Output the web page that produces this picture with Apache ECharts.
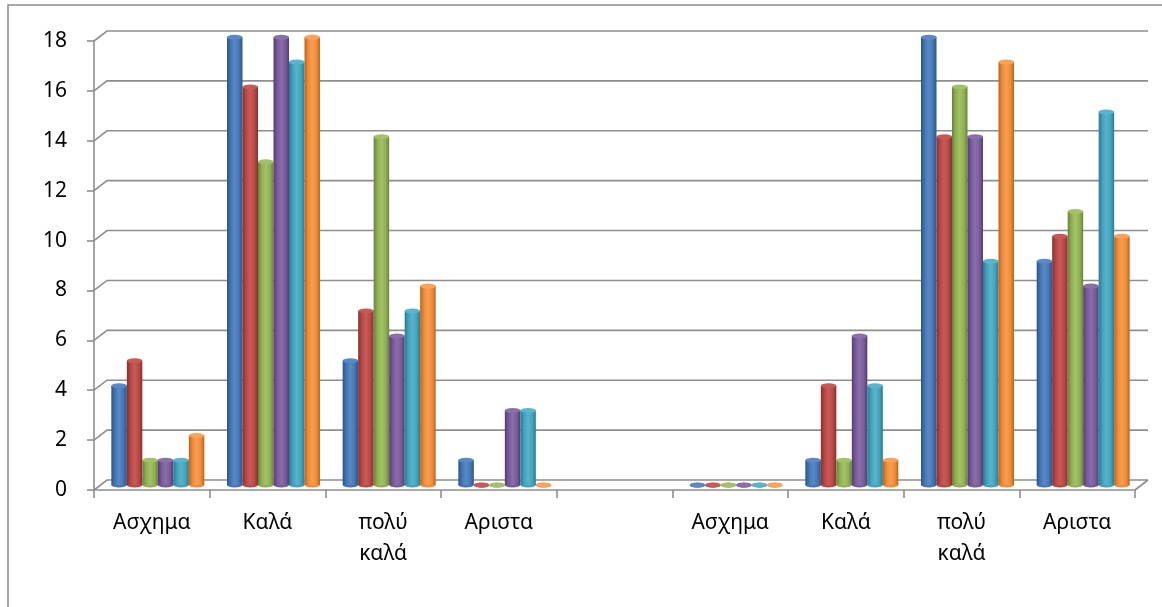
<!DOCTYPE html>
<html>
<head>
<meta charset="utf-8">
<script src="https://cdn.jsdelivr.net/npm/echarts@6/dist/echarts.min.js"></script>
<style>html,body{margin:0;padding:0;background:#fff;}#c{width:1162px;height:607px;}</style>
</head>
<body>
<div id="c"></div>
<script>
const categories = ['Ασχημα', 'Καλά', 'πολύ καλά', 'Αριστα', '', 'Ασχημα', 'Καλά', 'πολύ καλά', 'Αριστα'];
const series1 = [4, 18, 5, 1, '-', 0, 1, 18, 9];
const series2 = [5, 16, 7, 0, '-', 0, 4, 14, 10];
const series3 = [1, 13, 14, 0, '-', 0, 1, 16, 11];
const series4 = [1, 18, 6, 3, '-', 0, 6, 14, 8];
const series5 = [1, 17, 7, 3, '-', 0, 4, 9, 15];
const series6 = [2, 18, 8, 0, '-', 0, 1, 17, 10];
const yTicks = [0, 2, 4, 6, 8, 10, 12, 14, 16, 18];

const allSeries = [series1, series2, series3, series4, series5, series6];
const palette = [
  { dark: '#2b5587', mid: '#4575b3', light: '#5a8ac6', cap: '#5a89c4' },
  { dark: '#833230', mid: '#b84845', light: '#c85b58', cap: '#c65a57' },
  { dark: '#67823a', mid: '#91b054', light: '#a3c266', cap: '#a3c166' },
  { dark: '#533c70', mid: '#785c9a', light: '#8a6eab', cap: '#8a70ab' },
  { dark: '#2a7a90', mid: '#44a2bb', light: '#58b4cc', cap: '#5ab5cc' },
  { dark: '#b9641d', mid: '#ee8c3a', light: '#f89d52', cap: '#f9a25a' }
];

const DX = 13, DY = 10;
const BW = 15.5;
const gridColor = '#8e8e8e';
const font = 'Noto Sans';

const chart = echarts.init(document.getElementById('c'), null, { renderer: 'canvas' });

const series = [];
series.push({
  type: 'custom',
  xAxisIndex: 0, yAxisIndex: 0,
  silent: true, z: 1,
  data: yTicks.map(v => [0, v]),
  renderItem: function (params, api) {
    const cs = params.coordSys;
    const y = api.coord([0, api.value(1)])[1];
    const x0 = cs.x, x1 = cs.x + cs.width;
    const children = [{
      type: 'polyline',
      shape: { points: [[x0, y], [x0 + DX, y - DY], [x1 + DX, y - DY]] },
      style: { stroke: gridColor, lineWidth: 1.6, fill: null }
    }];
    if (api.value(1) === 0) {
      children.push({
        type: 'line',
        shape: { x1: x1, y1: y, x2: x1 + DX, y2: y - DY },
        style: { stroke: gridColor, lineWidth: 1.6 }
      });
    }
    return { type: 'group', children: children };
  }
});

allSeries.forEach((data, i) => {
  const p = palette[i];
  series.push({
    type: 'bar',
    name: 'S' + (i + 1),
    xAxisIndex: 1, yAxisIndex: 1,
    data: data,
    barGap: '0%',
    barCategoryGap: '19.6%',
    z: 3,
    itemStyle: {
      color: new echarts.graphic.LinearGradient(0, 0, 1, 0, [
        { offset: 0, color: p.dark },
        { offset: 0.25, color: p.mid },
        { offset: 0.5, color: p.light },
        { offset: 0.78, color: p.mid },
        { offset: 1, color: p.dark }
      ])
    }
  });
});
allSeries.forEach((data, i) => {
  const p = palette[i];
  series.push({
    type: 'pictorialBar',
    name: 'C' + (i + 1),
    xAxisIndex: 1, yAxisIndex: 1,
    data: data,
    barGap: '0%',
    barCategoryGap: '19.6%',
    symbol: 'circle',
    symbolSize: [BW, 5],
    symbolPosition: 'end',
    symbolOffset: [0, '-50%'],
    z: 5,
    itemStyle: { color: p.cap, borderColor: p.dark, borderWidth: 0.8 }
  });
});
allSeries.forEach((data, i) => {
  const p = palette[i];
  series.push({
    type: 'pictorialBar',
    name: 'B' + (i + 1),
    xAxisIndex: 2, yAxisIndex: 2,
    data: data,
    barGap: '0%',
    barCategoryGap: '19.6%',
    symbol: 'circle',
    symbolSize: [BW, 5],
    symbolPosition: 'start',
    symbolOffset: [0, '50%'],
    z: 2,
    itemStyle: { color: p.mid }
  });
});

const hiddenX = idx => ({
  type: 'category', gridIndex: idx, data: categories,
  axisLine: { show: false }, axisTick: { show: false }, axisLabel: { show: false }
});
const hiddenY = idx => ({
  type: 'value', gridIndex: idx, min: 0, max: 18, interval: 2,
  axisLine: { show: false }, axisTick: { show: false }, axisLabel: { show: false },
  splitLine: { show: false }
});

const option = {
  animation: false,
  backgroundColor: '#fff',
  graphic: [{
    type: 'rect',
    shape: { x: 8, y: 5, width: 1300, height: 700 },
    style: { fill: null, stroke: '#8a8a8a', lineWidth: 1.5 },
    z: 0
  }],
  grid: [
    { left: 94, right: 27, top: 41, bottom: 117 },
    { left: 100, right: 21, top: 37, bottom: 122 },
    { left: 100, right: 21, top: 37, bottom: 122 }
  ],
  xAxis: [
    {
      type: 'category', gridIndex: 0, data: categories,
      axisLine: { show: true, lineStyle: { color: gridColor, width: 1.6 } },
      axisTick: { show: true, length: 8, lineStyle: { color: gridColor, width: 1.6 } },
      axisLabel: {
        color: '#000', fontFamily: font, fontSize: 21, margin: 18, lineHeight: 31,
        interval: 0,
        formatter: v => v.replace(' ', '\n')
      },
      splitLine: { show: false }
    },
    hiddenX(1),
    hiddenX(2)
  ],
  yAxis: [
    {
      type: 'value', gridIndex: 0, min: 0, max: 18, interval: 2,
      axisLine: { show: true, lineStyle: { color: gridColor, width: 1.6 } },
      axisTick: { show: true, length: 7, lineStyle: { color: gridColor, width: 1.6 } },
      axisLabel: { color: '#000', fontFamily: font, fontSize: 21, margin: 27 },
      splitLine: { show: false }
    },
    hiddenY(1),
    hiddenY(2)
  ],
  series: series
};
chart.setOption(option);
</script>
</body>
</html>
